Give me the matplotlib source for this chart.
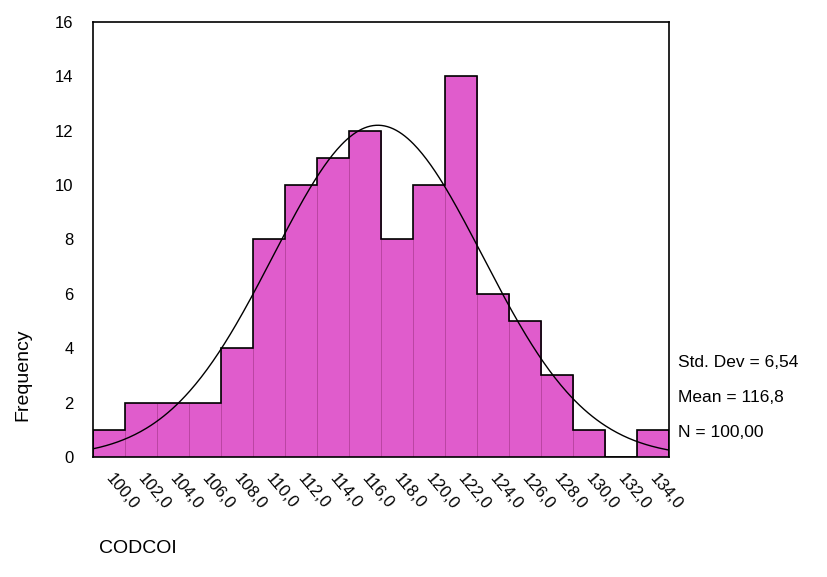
import numpy as np
import matplotlib.transforms as mtransforms
from matplotlib import pyplot as plt

plt.rcParams["font.family"] = ["Liberation Sans", "DejaVu Sans"]

# histogram of CODCOI (bin centres, width 2)
bin_centers = [100, 102, 104, 106, 108, 110, 112, 114, 116, 118,
               120, 122, 124, 126, 128, 130, 132, 134]
frequencies = [1, 2, 2, 2, 4, 8, 10, 11, 12, 8,
               10, 14, 6, 5, 3, 1, 0, 1]
tick_labels = [f"{c},0" for c in bin_centers]
y_ticks = [0, 2, 4, 6, 8, 10, 12, 14, 16]

std_dev = 6.54
mean = 116.8
n = 100
bin_width = 2

fig = plt.figure(figsize=(8.27, 5.77), dpi=100)
ax = fig.add_axes([0.1125, 0.208, 0.6965, 0.754])

ax.bar(bin_centers, frequencies, width=bin_width, color="#e05ccc",
       edgecolor="#b8429f", linewidth=0.6, zorder=2)

# black outline around the histogram
edges = [c - bin_width / 2 for c in bin_centers] + [bin_centers[-1] + bin_width / 2]
ax.stairs(frequencies, edges, color="black", linewidth=1.2, zorder=3)

# normal curve
xs = np.linspace(edges[0], edges[-1], 400)
ys = n * bin_width / (std_dev * np.sqrt(2 * np.pi)) * np.exp(-0.5 * ((xs - mean) / std_dev) ** 2)
ax.plot(xs, ys, color="black", linewidth=1.0, zorder=4)

ax.set_xlim(edges[0], edges[-1])
ax.set_ylim(0, 16)
ax.set_yticks(y_ticks)
ax.set_xticks(bin_centers)
ax.set_xticklabels(tick_labels, rotation=-50, ha="left", va="top",
                   rotation_mode="anchor", fontsize=12)
ax.tick_params(axis="both", length=0, labelsize=12)
ax.tick_params(axis="x", pad=10)
ax.tick_params(axis="y", pad=14)
shift = mtransforms.ScaledTranslation(5 / 100, 0, fig.dpi_scale_trans)
for lbl in ax.get_xticklabels():
    lbl.set_transform(lbl.get_transform() + shift)
for s in ax.spines.values():
    s.set_linewidth(1.2)

fig.text(0.028, 0.35, "Frequency", rotation=90, ha="center", va="center", fontsize=14)
fig.text(0.12, 0.05, "CODCOI", ha="left", va="center", fontsize=14)

fig.text(0.82, 0.371, "Std. Dev = " + f"{std_dev:.2f}".replace(".", ","),
         ha="left", va="center", fontsize=12.5)
fig.text(0.82, 0.311, "Mean = " + f"{mean:.1f}".replace(".", ","),
         ha="left", va="center", fontsize=12.5)
fig.text(0.82, 0.251, "N = " + f"{n:.2f}".replace(".", ","),
         ha="left", va="center", fontsize=12.5)

plt.savefig("out.png", dpi=100)
plt.close()
